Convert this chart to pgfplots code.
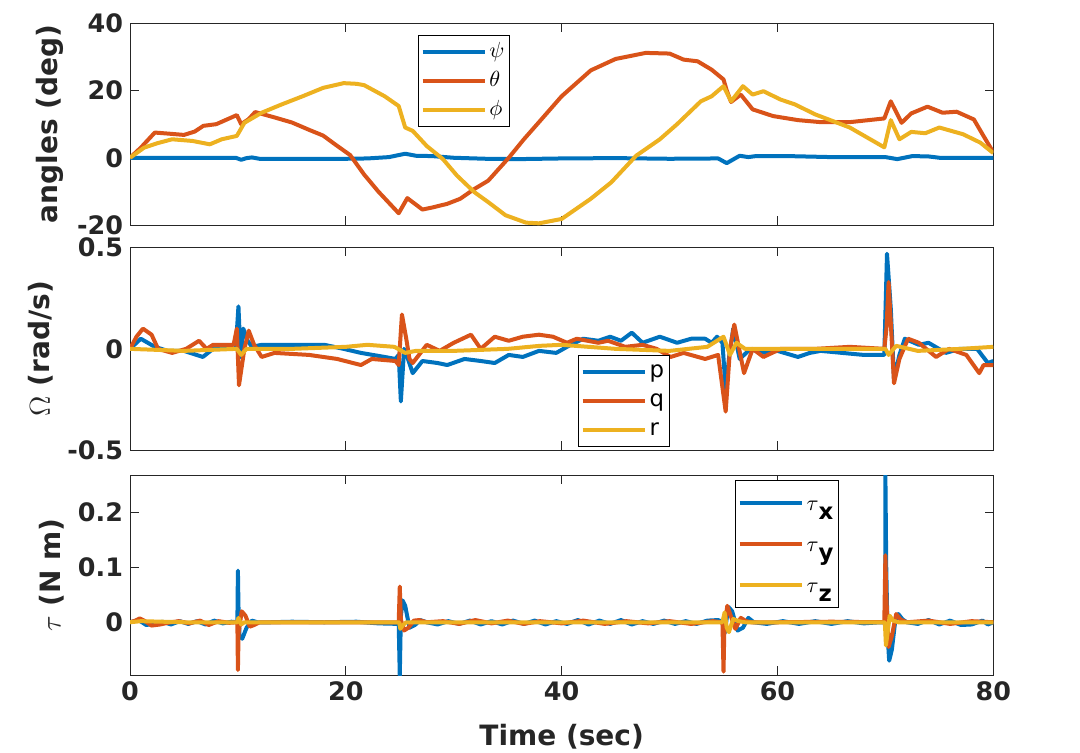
\documentclass[border=0pt]{standalone}
\usepackage{pgfplots}
\pgfplotsset{compat=1.18}
\usepackage{fontspec}
\setmainfont{DejaVu Sans}
\definecolor{mblue}{rgb}{0,0.447,0.741}
\definecolor{morange}{rgb}{0.85,0.325,0.098}
\definecolor{myellow}{rgb}{0.929,0.694,0.125}
\definecolor{axgray}{rgb}{0.15,0.15,0.15}
\pgfplotsset{
  mystyle/.style={
    scale only axis, width=431.65pt,
    xmin=0, xmax=80, xtick={0,20,40,60,80},
    tick align=inside, major tick length=4.3pt,
    axis line style={draw=axgray, line width=0.5pt},
    every tick/.style={draw=axgray, line width=0.5pt},
    tick label style={font=\fontsize{12.7}{14}\selectfont\bfseries, text=axgray},
    label style={font=\fontsize{14}{16}\selectfont\bfseries, text=axgray},
    /pgf/number format/assume math mode=true,
    legend style={draw=black, line width=0.5pt, fill=white,
      font=\fontsize{11.4}{13}\selectfont, anchor=north west,
      inner sep=1pt, nodes={inner sep=1.5pt}},
    legend cell align=left,
    legend image code/.code={\draw[##1,line width=2pt] (0pt,0pt) -- (31pt,0pt);},
    every axis plot/.append style={line width=2pt, line join=round},
  }
}
\begin{document}
\begin{tikzpicture}
\path[use as bounding box] (0,0) rectangle (540pt,376pt);
% ---------------- top axis
\begin{axis}[mystyle, at={(65pt,263.5pt)}, anchor=south west, height=100.85pt,
  ymin=-20, ymax=40, ytick={-20,0,20,40}, xticklabels={},
  ylabel={angles (deg)},
  legend style={at={(0.3336,0.942)}, nodes={text height=8.5pt, text depth=3pt}}]
\addplot[mblue] coordinates {(0,0) (5,0) (9.8,0) (10.3,-0.6) (10.8,-0.1) (11.3,0.1) (12,-0.3) (15,-0.3) (20,-0.3) (22,-0.2) (24,0.2) (25.5,1.2) (26.5,0.6) (28,0.5) (30,0) (33,-0.3) (36,-0.4) (40,-0.2) (45,-0.1) (50,-0.3) (54.5,-0.2) (55.3,-1.6) (56.5,0.6) (57.3,0.2) (58,0.5) (61,0.5) (65,0.2) (70,0.2) (71.1,-0.4) (72.5,0.5) (74,0.4) (75,0) (80,0)};
\addlegendentry{$\psi$}
\addplot[morange] coordinates {(0,0) (1,3) (2.3,7.5) (3.5,7.2) (5,6.8) (6,7.8) (6.8,9.5) (8,10) (9.9,12.7) (10.3,10) (11,11.5) (11.6,13.6) (13.4,12) (15,10.5) (16.6,8.3) (17.9,6.6) (19,4) (20.4,0.8) (21.7,-5) (23,-10) (24.9,-16.5) (25.7,-12) (27.1,-15.4) (28,-14.8) (29.4,-13.7) (30.6,-12.2) (31.9,-9.3) (33.2,-6.8) (35.1,0) (36.5,5.5) (37.9,10.6) (40,18.3) (42.7,26) (45,29.4) (47.8,31.2) (50,31) (51.3,29.2) (52.6,28.7) (53.9,26.2) (55,23.3) (55.3,20) (55.7,16.6) (56.6,18.8) (57.7,14.4) (59.6,12.4) (61.9,11.2) (64,10.6) (66.7,10.6) (69.9,11.7) (70.5,16.8) (71.5,10.4) (72.4,13.2) (73.9,15.2) (75.3,13.4) (76.6,13.7) (78.2,11.4) (79,7) (80,1.6)};
\addlegendentry{$\theta$}
\addplot[myellow] coordinates {(0,0) (1.3,3) (2.5,4.3) (3.9,5.5) (5.8,5) (7.4,4) (8.5,5.5) (9.9,6.5) (10.6,10.4) (12.2,13.4) (14,15.8) (16,18.3) (17.9,20.8) (19.8,22.2) (21,22) (21.7,21.6) (23.6,18.3) (24.9,15.4) (25.5,9) (26.2,8) (27.5,3.5) (29,-0.4) (30.3,-5.3) (31.9,-10.2) (33.2,-13.2) (34.8,-17.1) (36.7,-19.3) (37.9,-19.5) (40,-18.2) (42.7,-12.2) (44.6,-7.3) (46.9,0.6) (49.1,5.5) (50.7,10) (52.9,16.8) (53.9,18.3) (55,21.3) (55.7,16.8) (56.8,21.3) (57.7,18.8) (58.7,19.8) (60.3,17.3) (61.6,15.9) (63.5,12.9) (66.7,9) (69.9,3.1) (70.5,11.2) (71.3,5.5) (72.4,7.7) (73.7,7.3) (75,9) (77.2,7) (78.8,4.5) (80,1.4)};
\addlegendentry{$\phi$}
\end{axis}
% ---------------- middle axis
\begin{axis}[mystyle, at={(65pt,151pt)}, anchor=south west, height=101.15pt,
  ymin=-0.5, ymax=0.5, ytick={-0.5,0,0.5}, xticklabels={},
  ylabel={$\Omega$ (rad/s)},
  legend style={at={(0.519,0.4696)}, nodes={text height=8.5pt, text depth=3pt}}]
\addplot[mblue] coordinates {(0,0) (1,0.05) (2.3,0.01) (3.5,-0.01) (5,-0.01) (6.75,-0.04) (7.7,0) (9.8,0) (10.05,0.21) (10.25,-0.04) (10.5,0.1) (10.9,0.04) (11.3,0.01) (12.2,0.02) (15,0.02) (18,0.02) (19.8,0) (21.4,-0.02) (23.6,-0.04) (24.6,-0.05) (24.9,-0.03) (25.1,-0.26) (25.4,0) (25.7,-0.04) (26.2,-0.12) (27.1,-0.06) (28.5,-0.07) (29.4,-0.08) (31,-0.05) (32.5,-0.06) (33.8,-0.07) (35.1,-0.03) (36.4,-0.04) (37.9,-0.01) (39.5,-0.02) (40.5,0.01) (42,0.05) (43.4,0.04) (44.5,0.06) (45.5,0.04) (46.5,0.08) (47.5,0.03) (49.1,0.06) (50.7,0.03) (52,0.05) (53.3,0.05) (53.9,0.03) (54.4,0.06) (54.9,0.03) (55.2,-0.2) (55.5,-0.05) (55.9,0.1) (56.5,-0.05) (57.5,0) (58.5,-0.02) (60,-0.01) (61.9,-0.04) (63,-0.02) (64,-0.01) (66,-0.02) (68,-0.03) (69.9,-0.03) (70.15,0.47) (70.5,0.2) (70.8,-0.15) (71.3,-0.03) (71.8,0.05) (73.1,0.02) (74,0.03) (75.6,-0.02) (76.9,0) (78.5,0) (79.5,-0.07) (80,-0.06)};
\addlegendentry{p}
\addplot[morange] coordinates {(0,0) (0.6,0.06) (1.2,0.1) (2,0.07) (2.6,0) (3.9,-0.02) (5.2,0) (6.4,0.04) (7.1,0) (7.7,0.02) (9.6,0.02) (9.9,0.1) (10.1,-0.18) (10.6,0) (11,0.09) (11.5,0.02) (12.2,-0.04) (13.4,-0.02) (16.6,-0.03) (19.2,-0.05) (21.4,-0.08) (22.4,-0.05) (24.6,-0.06) (24.9,-0.08) (25.2,0.17) (25.6,0.05) (25.9,-0.05) (26.2,-0.07) (27.5,0.02) (28.7,-0.01) (30,0.03) (31.6,0.07) (32.5,0) (33.8,0.06) (35.1,0.04) (36.4,0.06) (37.9,0.07) (39.2,0.06) (40.5,0.03) (41.4,0.05) (43.4,0.03) (44.3,0.04) (45.9,0.01) (47.5,0.02) (48.8,0) (50.1,-0.04) (51.3,-0.02) (53.3,-0.05) (54.5,-0.03) (55.2,-0.31) (55.6,0) (56,0.12) (56.9,-0.12) (57.7,0) (58.7,-0.04) (60.3,0) (63.5,0) (66.7,0.01) (69.9,0) (70.1,0.1) (70.3,0.33) (70.8,-0.17) (71.3,-0.05) (72.1,0.05) (73.1,0.03) (74.7,-0.04) (75.9,0) (77.5,-0.03) (78.7,-0.12) (79.1,-0.08) (80,-0.08)};
\addlegendentry{q}
\addplot[myellow] coordinates {(0,0) (5,-0.01) (9.9,0) (10.3,-0.03) (10.8,0) (15,0) (20,0.01) (22,0.02) (24.5,0.01) (25.5,-0.02) (26.5,-0.01) (30,-0.01) (35,0) (38,0.015) (40,0.02) (45,0) (50,-0.01) (53.5,0.01) (55,0.06) (55.6,-0.03) (56.2,0.03) (57,0) (60,0) (70,0) (70.3,-0.03) (71,0.015) (73,-0.01) (77,0) (80,0.01)};
\addlegendentry{r}
\end{axis}
% ---------------- bottom axis
\begin{axis}[mystyle, at={(65pt,38.5pt)}, anchor=south west, height=100pt,
  ymin=-0.096, ymax=0.268, ytick={0,0.1,0.2},
  xlabel={Time (sec)}, ylabel={$\tau$ (N m)},
  xlabel style={yshift=-4.5pt},
  legend style={at={(0.7008,0.975)}, nodes={text height=12.5pt, text depth=5pt}}]
\addplot[mblue] coordinates {(0,0) (0.8,0.004) (1.5,-0.005) (2.2,-0.003) (3,0.001) (3.8,-0.004) (4.6,0.002) (5.4,-0.003) (6.2,0.002) (7,-0.004) (7.8,0.003) (8.6,-0.002) (9.4,0.001) (9.95,0) (10,0.094) (10.05,0.03) (10.15,-0.025) (10.4,-0.03) (10.8,-0.01) (11.3,0.003) (11.8,0) (13,0) (15,0.001) (18,0) (21,0.001) (23,-0.002) (24.9,-0.003) (25,-0.098) (25.1,0.01) (25.25,0.04) (25.5,0.03) (25.9,-0.01) (26.4,-0.005) (26.9,0.004) (27.5,0) (28.5,-0.004) (29.5,0.002) (30.5,-0.003) (31.5,0.003) (32.5,-0.004) (33.5,0.002) (34.5,-0.004) (35.5,0.003) (36.5,-0.003) (37.5,0.003) (38.5,-0.004) (39.5,0.002) (40.5,-0.003) (41.5,0.004) (42.5,-0.004) (43.5,0.003) (44.5,-0.003) (45.5,0.004) (46.5,-0.004) (47.5,0.002) (48.5,-0.003) (49.5,0.003) (50.5,-0.003) (51.5,0.002) (52.5,-0.003) (53.5,0.003) (54.5,0.004) (54.95,0) (55.1,-0.02) (55.45,0.028) (55.8,0.02) (56.3,-0.015) (56.8,-0.01) (57.3,0.008) (57.8,0) (59,-0.003) (60.5,0.002) (62,-0.003) (63.5,0.002) (65,-0.003) (66.5,0.002) (68,-0.002) (69.5,0) (69.98,0) (70,0.27) (70.08,0.1) (70.2,-0.02) (70.35,-0.07) (70.6,-0.05) (70.9,0) (71.2,0.015) (71.6,0.005) (72,0) (73,-0.003) (74,0.004) (75,-0.004) (76,0.003) (77,-0.005) (78,-0.004) (79,0.003) (79.5,-0.004) (80,0)};
\addlegendentry{$\tau$\raisebox{-4.5pt}{\bfseries x}}
\addplot[morange] coordinates {(0,0) (0.5,0.003) (0.9,0.007) (1.4,0.002) (2,-0.006) (2.8,-0.004) (3.5,-0.001) (4.5,0.002) (5.5,-0.002) (6.5,0.003) (7.3,-0.005) (8.2,0.002) (9.2,-0.001) (9.95,0) (10,-0.087) (10.06,-0.02) (10.35,0.02) (10.7,0.012) (11.1,-0.008) (11.5,-0.005) (12,0) (15,0) (20,0) (24.9,0) (25,0.065) (25.1,0.005) (25.4,-0.015) (25.8,-0.01) (26.3,0.003) (26.8,0.004) (27.5,0) (29,0.002) (30.5,-0.003) (32,0.004) (33.5,-0.002) (35,0.003) (36.5,-0.003) (38,0.002) (40,-0.002) (42,0.003) (44,-0.003) (46,0.002) (48,-0.002) (50,0.002) (52,-0.003) (54,0.002) (54.9,0) (55,-0.09) (55.08,-0.01) (55.35,0.03) (55.7,0.01) (56.1,-0.012) (56.6,0.008) (57.1,0.002) (57.6,0) (60,0) (65,0.001) (69.9,0) (70,0.122) (70.08,0.05) (70.3,-0.045) (70.6,-0.025) (71,0.015) (71.4,0.005) (72,0) (74,0.003) (76,-0.003) (78,0.002) (80,0)};
\addlegendentry{$\tau$\raisebox{-4.5pt}{\bfseries y}}
\addplot[myellow] coordinates {(0,0) (1,0.002) (5,0) (9.95,0) (10.05,0.008) (10.3,-0.004) (10.6,0) (24.95,0) (25.05,-0.012) (25.3,-0.005) (25.6,0) (54.9,0) (55.1,0.018) (55.3,-0.01) (55.5,-0.018) (55.9,0.006) (56.4,0.002) (57,0) (69.95,0) (70.05,-0.042) (70.2,-0.02) (70.4,0.012) (70.7,0.003) (71.2,0) (80,0)};
\addlegendentry{$\tau$\raisebox{-4.5pt}{\bfseries z}}
\end{axis}
\end{tikzpicture}
\end{document}
